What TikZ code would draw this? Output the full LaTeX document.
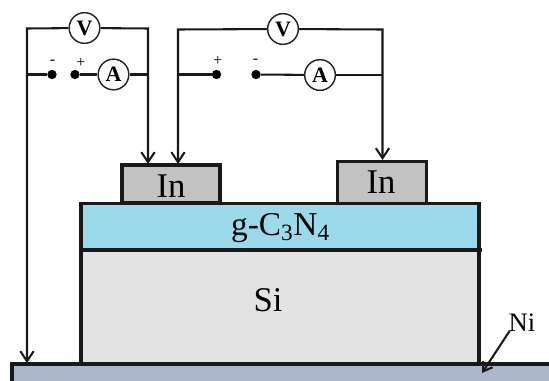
\documentclass[tikz,border=0pt]{standalone}
\usepackage{fontspec}
\setmainfont{Liberation Serif}
\usetikzlibrary{arrows.meta}
\begin{document}
\begin{tikzpicture}[x=0.75pt,y=-0.75pt,
  wire/.style={line width=1.55pt,black!90},
  probe/.style={wire,-{Straight Barb[length=7.5pt,width=10pt,line width=1.55pt]}},
  layer/.style={draw=black!90,line width=2.4pt,inner sep=0pt,outer sep=0pt,anchor=north west},
  meter/.style={circle,draw=black!85,line width=1.1pt,fill=white,minimum size=23pt,inner sep=0pt,font=\fontsize{16.5}{16.5}\selectfont\bfseries},
  term/.style={circle,fill=black,minimum size=7pt,inner sep=0pt},
  sign/.style={font=\fontsize{12}{12}\selectfont,inner sep=0pt},
  lab/.style={font=\fontsize{26}{26}\selectfont,inner sep=0pt}]
\useasboundingbox (0,0) rectangle (549,381);
% substrate
\fill[fill={rgb,255:red,172;green,183;blue,203}] (11,363) rectangle (549,381);
\draw[line width=2.4pt,black!90] (12,381) -- (12,364) -- (549,364);
% layers
\node[layer,fill=black!11,minimum width=298.5pt,minimum height=85.5pt] (si) at (81,250) {};
\node[layer,fill={rgb,255:red,154;green,218;blue,234},minimum width=298.5pt,minimum height=35.25pt] (gcn) at (81,203.5) {};
\draw[line width=2.4pt,black!90] (81,250) -- (482,250);
\node[layer,fill=black!24,minimum width=73.5pt,minimum height=28.5pt] (inl) at (122,165) {};
\node[layer,fill=black!24,minimum width=66.75pt,minimum height=31.5pt] (inr) at (337.5,161.5) {};
\node[lab] at (171,186) {In};
\node[lab] at (381,182) {In};
\node[lab,font=\fontsize{25}{25}\selectfont] at (280.5,228) {g-C\textsubscript{3}N\textsubscript{4}};
\node[lab] at (268,300) {Si};
\node[font=\fontsize{20}{20}\selectfont,inner sep=0pt] (ni) at (522,323) {Ni};
\coordinate (nitip) at (482,373);
\draw[wire,-{Straight Barb[length=6.5pt,width=8.5pt,line width=1.55pt]}] (ni.south west) ++(1pt,1pt) -- (nitip);
% left circuit
\node[meter] (v1) at (84.5,28) {V};
\node[meter] (a1) at (113.5,74.5) {A};
\node[term] (d1) at (52,74.5) {};
\node[term] (d2) at (75,74.5) {};
\node[sign] at (52.5,62.5) {-};
\node[sign] at (81,62.5) {+};
\coordinate (j1) at (27,28.5);
\coordinate (j2) at (148,28.5);
\coordinate (j3) at (27,74.5);
\coordinate (j4) at (148,74.5);
\coordinate (sub) at (27,363);
\coordinate (t1) at (148,164);
\draw[probe] (v1) -- (j1) -- (sub);
\draw[probe] (v1) -- (j2) -- (t1);
\draw[wire] (j3) -- (d1);
\draw[wire] (d2) -- (a1);
\draw[wire] (a1) -- (j4);
% right circuit
\node[meter] (v2) at (283,29) {V};
\node[meter] (a2) at (320,75) {A};
\node[term] (d3) at (216.5,74.5) {};
\node[term] (d4) at (256,74.5) {};
\node[sign] at (218,60.5) {+};
\node[sign] at (255.5,61.5) {-};
\coordinate (k1) at (178,29.5);
\coordinate (k2) at (382.5,29.5);
\coordinate (k3) at (178,74.5);
\coordinate (k4) at (382.5,75);
\coordinate (t2) at (178,164);
\coordinate (t3) at (382.5,160);
\draw[probe] (v2) -- (k1) -- (t2);
\draw[probe] (v2) -- (k2) -- (t3);
\draw[wire] (k3) -- (d3);
\draw[wire] (d4) -- (a2);
\draw[wire] (a2) -- (k4);
\end{tikzpicture}
\end{document}
